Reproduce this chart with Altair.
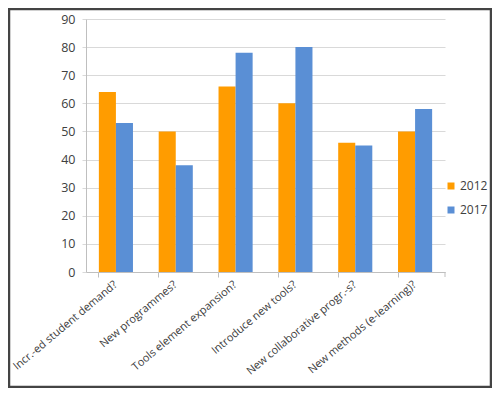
import altair as alt
import pandas as pd

categories = ["Incr.-ed student demand?", "New programmes?", "Tools element expansion?",
              "Introduce new tools?", "New collaborative progr.-s?", "New methods (e-learning)?"]
years = ["2012", "2017"]
values_2012 = [64, 50, 66, 60, 46, 50]
values_2017 = [53, 38, 78, 80, 45, 58]
y_ticks = [0, 10, 20, 30, 40, 50, 60, 70, 80, 90]

rows = []
for c, a, b in zip(categories, values_2012, values_2017):
    rows.append({"category": c, "year": "2012", "value": a})
    rows.append({"category": c, "year": "2017", "value": b})
df = pd.DataFrame(rows)

FONT = "Open Sans"
W, H = 359, 253

bars = alt.Chart(df).mark_bar().encode(
    x=alt.X("category:N", sort=categories, title=None,
            scale=alt.Scale(paddingInner=0.43, paddingOuter=0.215),
            axis=alt.Axis(labelAngle=-40, labelAlign="right", labelBaseline="middle",
                          bandPosition=0, tickSize=5, tickColor="#bfbfbf",
                          domainColor="#bfbfbf", labelFont=FONT, labelFontSize=11,
                          labelColor="#404040", labelPadding=6, grid=False)),
    xOffset=alt.XOffset("year:N", sort=years, scale=alt.Scale(paddingInner=0, paddingOuter=0)),
    y=alt.Y("value:Q", title=None,
            scale=alt.Scale(domain=[0, 90], nice=False),
            axis=alt.Axis(values=y_ticks, grid=True, gridColor="#d9d9d9",
                          tickSize=4, tickColor="#d9d9d9", domainColor="#bfbfbf",
                          labelFont=FONT, labelFontSize=12.5, labelColor="#404040",
                          labelPadding=7)),
    color=alt.Color("year:N", sort=years,
                    scale=alt.Scale(domain=years, range=["#ff9c00", "#5a8fd5"]),
                    legend=alt.Legend(title=None, orient="none", legendX=359, legendY=161,
                                      symbolType="square", symbolSize=49,
                                      symbolStrokeWidth=0, labelFont=FONT,
                                      labelFontSize=12, labelColor="#404040",
                                      rowPadding=12, labelOffset=3)),
)

blank = alt.Data(values=[{}])

end_tick = alt.Chart(blank).mark_rule(color="#bfbfbf").encode(
    x=alt.value(W), y=alt.value(H), y2=alt.value(H + 5))

border = alt.Chart(blank).mark_rect(fill=None, stroke="#444444", strokeWidth=2.5).encode(
    x=alt.value(-77), x2=alt.value(405), y=alt.value(-10), y2=alt.value(368))

chart = alt.layer(bars, end_tick, border).properties(
    width=W, height=H,
    autosize=alt.AutoSizeParams(type="none"),
    padding={"left": 78, "top": 11, "right": 47, "bottom": 116},
).configure_view(stroke=None)

chart.save("out.html", embed_options={"renderer": "svg", "actions": False})
